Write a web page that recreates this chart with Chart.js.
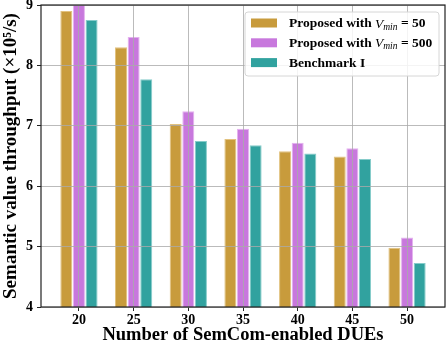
<!DOCTYPE html>
<html>
<head>
<meta charset="utf-8">
<script src="https://cdn.jsdelivr.net/npm/chart.js@4"></script>
<style>
  html, body { margin: 0; padding: 0; background: #fff; }
  #wrap { width: 448px; height: 346px; }
</style>
</head>
<body>
<div id="wrap"><canvas id="chart" width="448" height="346"></canvas></div>
<script>
// datos
const dues = [20, 25, 30, 35, 40, 45, 50];
const vmin50 = [8.90, 8.30, 7.03, 6.78, 6.58, 6.49, 4.98];
const vmin500 = [9.02, 8.47, 7.24, 6.95, 6.72, 6.63, 5.15];
const benchmark1 = [8.75, 7.77, 6.75, 6.68, 6.54, 6.45, 4.73];
const yTicks = [4, 5, 6, 7, 8, 9];

const serif = '"Liberation Serif", "DejaVu Serif", serif';

function pts(vals) {
    return dues.map((d, i) => ({ x: d, y: vals[i] }));
}

// leyenda y marco dibujados a mano (el texto lleva subíndice)
const framePlugin = {
    id: 'frame',
    afterDraw(chart) {
        const ctx = chart.ctx;
        const a = chart.chartArea;
        ctx.save();
        ctx.strokeStyle = '#222';
        ctx.lineWidth = 1.2;
        ctx.strokeRect(a.left, a.top, a.right - a.left, a.bottom - a.top);

        // caja de la leyenda
        const bx = 245, by = 12, bw = 194, bh = 64;
        ctx.globalAlpha = 0.85;
        ctx.fillStyle = '#fff';
        ctx.beginPath();
        ctx.roundRect(bx, by, bw, bh, 3);
        ctx.fill();
        ctx.globalAlpha = 1;
        ctx.strokeStyle = '#d6d6d6';
        ctx.lineWidth = 1;
        ctx.stroke();

        const rows = [
            { color: '#C89B3C', parts: [['Proposed with ', 'b'], ['V', 'bi'], ['min', 'sub'], [' = 50', 'b']] },
            { color: '#C878DD', parts: [['Proposed with ', 'b'], ['V', 'bi'], ['min', 'sub'], [' = 500', 'b']] },
            { color: '#31A29F', parts: [['Benchmark I', 'b']] }
        ];
        rows.forEach((r, i) => {
            const cy = 23 + i * 19.8;
            ctx.fillStyle = r.color;
            ctx.fillRect(251, cy - 4.5, 26, 9);
            let x = 289;
            ctx.textBaseline = 'middle';
            ctx.fillStyle = '#000';
            r.parts.forEach(([t, s]) => {
                let y = cy + 1;
                if (s === 'b') ctx.font = 'bold 13.5px ' + serif;
                else if (s === 'bi') ctx.font = 'italic 13.5px ' + serif;
                else { ctx.font = 'italic 9.5px ' + serif; y = cy + 4; }
                ctx.fillText(t, x, y);
                x += ctx.measureText(t).width;
            });
        });
        ctx.restore();
    }
};

const gridColor = 'rgba(170,170,170,0.8)';

new Chart(document.getElementById('chart'), {
    type: 'bar',
    data: {
        datasets: [
            { label: 'Proposed with Vmin = 50', data: pts(vmin50), backgroundColor: '#C89B3C', borderColor: '#E2C27F', borderWidth: 1 },
            { label: 'Proposed with Vmin = 500', data: pts(vmin500), backgroundColor: '#C878DD', borderColor: '#E4B2EF', borderWidth: 1 },
            { label: 'Benchmark I', data: pts(benchmark1), backgroundColor: '#31A29F', borderColor: '#86CCCA', borderWidth: 1 }
        ]
    },
    options: {
        responsive: false,
        animation: false,
        layout: { autoPadding: false, padding: { top: 5, right: 3, left: 0, bottom: 0 } },
        datasets: { bar: { categoryPercentage: 0.693, barPercentage: 0.95 } },
        plugins: { legend: { display: false }, tooltip: { enabled: false } },
        scales: {
            x: {
                type: 'linear',
                offset: false,
                min: 16.53,
                max: 53.47,
                afterBuildTicks: s => { s.ticks = dues.map(v => ({ value: v })); },
                afterFit: s => { s.height = 39; s.paddingLeft = 0; s.paddingRight = 0; },
                grid: { z: 1, offset: false, color: gridColor, lineWidth: 1, drawTicks: true, tickLength: 4, tickColor: '#222' },
                border: { display: false },
                ticks: { color: '#000', font: { family: serif, size: 14, weight: 'bold' }, padding: 1, maxRotation: 0 },
                title: { display: true, text: 'Number of SemCom-enabled DUEs', color: '#000', font: { family: serif, size: 18.5, weight: 'bold' }, padding: { top: 0, bottom: 0 } }
            },
            y: {
                min: 4,
                max: 9,
                afterBuildTicks: s => { s.ticks = yTicks.map(v => ({ value: v })); },
                afterFit: s => { s.width = 41; s.paddingTop = 0; s.paddingBottom = 0; },
                grid: { z: 1, color: gridColor, lineWidth: 1, drawTicks: true, tickLength: 4, tickColor: '#222' },
                border: { display: false },
                ticks: { color: '#000', font: { family: serif, size: 14, weight: 'bold' }, padding: 4 },
                title: { display: true, text: 'Semantic value throughput (×10⁵/s)', color: '#000', font: { family: serif, size: 19, weight: 'bold' }, padding: { top: 0, bottom: 0 } }
            }
        }
    },
    plugins: [framePlugin]
});
</script>
</body>
</html>
